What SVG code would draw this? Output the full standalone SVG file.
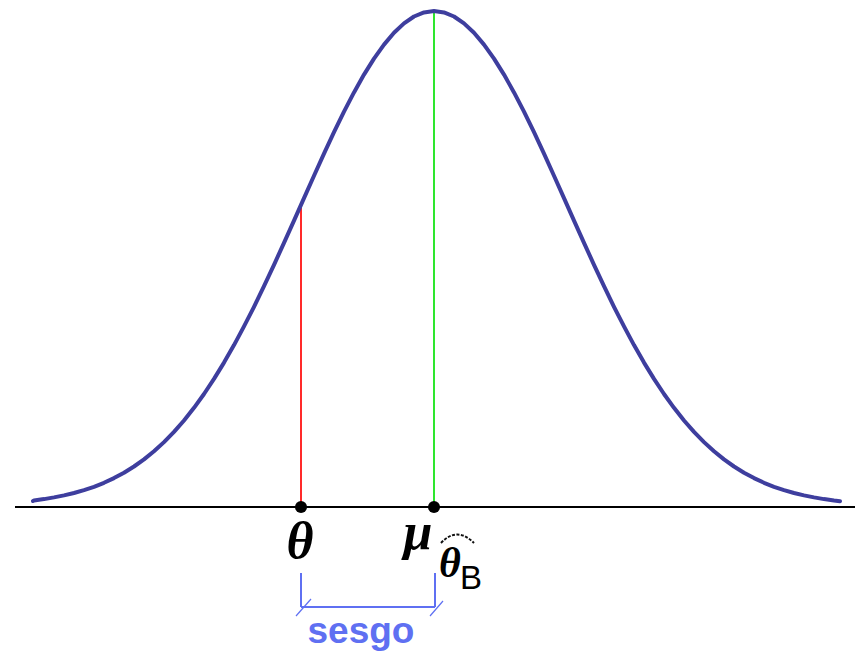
<svg xmlns="http://www.w3.org/2000/svg" width="855" height="651" viewBox="0 0 855 651">
<style>
.curve{fill:none;stroke:#3e3e9e;stroke-width:4;stroke-linejoin:round;stroke-linecap:round}
.axis{stroke:#000;stroke-width:2}
.dot{fill:#000}
.greek{font-family:"Liberation Serif","Times New Roman",serif;font-weight:bold;font-style:italic;fill:#000}
.sub{font-family:"Liberation Sans",Arial,sans-serif;fill:#000}
.brace{stroke:#5f70f2;stroke-width:2;fill:none}
.tick{stroke:#5f70f2;stroke-width:1.2;fill:none}
.lbl{font-family:"Liberation Sans",Arial,sans-serif;font-weight:bold;fill:#5f70f2}
</style>
<rect width="855" height="651" fill="#fff"/>
<g id="axis">
<line class="axis" x1="15" y1="507" x2="855" y2="507"/>
</g>
<g id="connectors">
<line x1="301" y1="208" x2="301" y2="507" stroke="#ff2a2a" stroke-width="2"/>
<line x1="434" y1="11" x2="434" y2="507" stroke="#2ee62e" stroke-width="2"/>
</g>
<g id="curve">
<path class="curve" d="M33,501 L34,500.5 44,499.1 54,497.4 64,495.4 74,493 84,490.1 94,486.8 104,482.8 114,478.1 124,472.7 134,466.5 144,459.4 154,451.3 164,442.1 174,431.9 184,420.5 194,407.8 204,394 214,378.9 224,362.6 234,345.1 244,326.4 254,306.8 264,286.2 274,264.8 284,242.9 294,220.6 304,198.1 314,175.7 324,153.6 334,132.2 344,111.7 354,92.4 364,74.6 374,58.6 384,44.6 394,32.8 404,23.4 414,16.5 424,12.4 434,11 444,12.4 454,16.5 464,23.4 474,32.8 484,44.6 494,58.6 504,74.6 514,92.4 524,111.7 534,132.2 544,153.6 554,175.7 564,198.1 574,220.6 584,242.9 594,264.8 604,286.2 614,306.8 624,326.4 634,345.1 644,362.6 654,378.9 664,394 674,407.8 684,420.5 694,431.9 704,442.1 714,451.3 724,459.4 734,466.5 744,472.7 754,478.1 764,482.8 774,486.8 784,490.1 794,493 804,495.4 814,497.4 824,499.1 834,500.5 840,501.2"/>
</g>
<g id="theta">
<circle class="dot" cx="301" cy="507" r="6"/>
<text class="greek" x="300" y="558" font-size="52" text-anchor="middle">θ</text>
</g>
<g id="mu">
<circle class="dot" cx="434" cy="507" r="6"/>
<text class="greek" x="418" y="549" font-size="52" text-anchor="middle">μ</text>
</g>
<g id="thetaB">
<path d="M441,543 Q457,526 474,543" fill="none" stroke="#111" stroke-width="2" stroke-dasharray="3,1.5"/>
<text class="greek" x="450" y="577" font-size="42" text-anchor="middle">θ</text>
<text class="sub" x="460" y="589" font-size="33">B</text>
</g>
<g id="sesgo">
<line class="brace" x1="301" y1="573" x2="301" y2="607"/>
<line class="brace" x1="435" y1="573" x2="435" y2="607"/>
<line class="brace" x1="301" y1="607" x2="435" y2="607"/>
<line class="tick" x1="296" y1="616" x2="311" y2="599"/>
<line class="tick" x1="430" y1="616" x2="443" y2="601"/>
<text class="lbl" x="361" y="643" font-size="37" text-anchor="middle">sesgo</text>
</g>
</svg>
